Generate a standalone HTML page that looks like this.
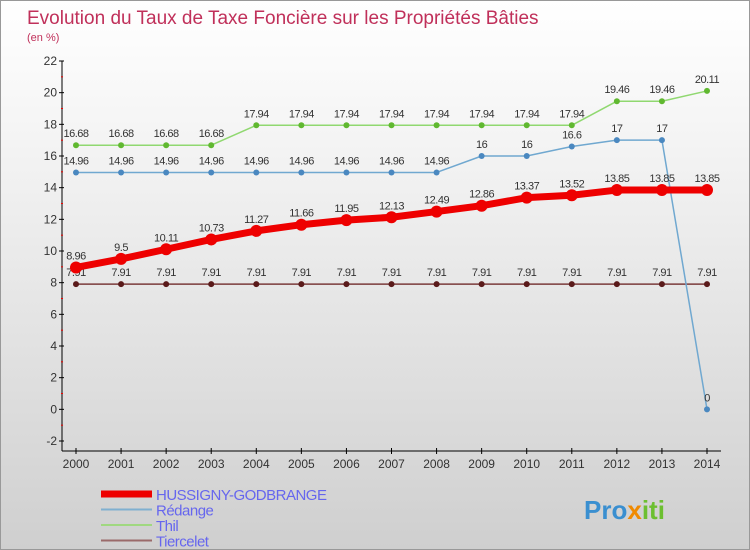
<!DOCTYPE html>
<html><head><meta charset="utf-8"><style>
body{margin:0}
#c{width:750px;height:550px;position:relative;overflow:hidden;background:linear-gradient(#ffffff,#f2f2f2 30%,#cfcfcf);font-family:"Liberation Sans",sans-serif;box-sizing:border-box;border:1px solid #999}
</style></head><body>
<div id="c">
<svg id="s" width="750" height="550">
<text x="26" y="23" font-size="19" fill="#c0305a">Evolution du Taux de Taxe Foncière sur les Propriétés Bâties</text>
<text x="26" y="40" font-size="11" fill="#c0305a">(en %)</text>
<g id="g"></g>
<text x="583" y="518" font-size="26" font-weight="bold" fill="#3a8fd0">Pro<tspan fill="#f08a00">x</tspan><tspan fill="#6cbf30">iti</tspan></text>
</svg>
</div>
<script>
const years=[2000,2001,2002,2003,2004,2005,2006,2007,2008,2009,2010,2011,2012,2013,2014];
const hussigny=[8.96,9.5,10.11,10.73,11.27,11.66,11.95,12.13,12.49,12.86,13.37,13.52,13.85,13.85,13.85];
const redange=[14.96,14.96,14.96,14.96,14.96,14.96,14.96,14.96,14.96,16,16,16.6,17,17,0];
const thil=[16.68,16.68,16.68,16.68,17.94,17.94,17.94,17.94,17.94,17.94,17.94,17.94,19.46,19.46,20.11];
const tiercelet=[7.91,7.91,7.91,7.91,7.91,7.91,7.91,7.91,7.91,7.91,7.91,7.91,7.91,7.91,7.91];
const yTicks=[-2,0,2,4,6,8,10,12,14,16,18,20,22];
const NS="http://www.w3.org/2000/svg";
const g=document.getElementById('g');
const X=i=>75+i*(706-75)/14;
const Y=v=>440-(v+2)*(380/24);
function el(t,a,name){const e=document.createElementNS(NS,t);for(const k in a)e.setAttribute(k,a[k]);


g.appendChild(e);return e;}
el('line',{x1:61,y1:Y(22),x2:61,y2:450,stroke:'#000'},'y-axis');
el('line',{x1:61,y1:450,x2:720,y2:450,stroke:'#000'},'x-axis');
yTicks.forEach(v=>{el('line',{x1:58,x2:63,y1:Y(v),y2:Y(v),stroke:'#000'},'y-tick');
const t=el('text',{x:56,y:Y(v)+4,'font-size':12,fill:'#333','text-anchor':'end'},'y-tick-label');t.textContent=v;
if(v<22)el('line',{x1:60,x2:62,y1:Y(v+1),y2:Y(v+1),stroke:'#e00'},'y-minor-tick');});
years.forEach((y,i)=>{el('line',{x1:X(i),x2:X(i),y1:447,y2:453,stroke:'#000'},'x-tick');
const t=el('text',{x:X(i),y:467,'font-size':12,fill:'#333','text-anchor':'middle'},'x-tick-label');t.textContent=y;});
function series(d,color,w,r,name,dark){
el('polyline',{points:d.map((v,i)=>X(i)+','+Y(v)).join(' '),fill:'none',stroke:color,'stroke-width':w,'stroke-linejoin':'round'},name+'-line');
d.forEach((v,i)=>{el('circle',{cx:X(i),cy:Y(v),r:r,fill:dark||color},name+'-point');
const t=el('text',{x:X(i),y:Y(v)-8,'font-size':11,fill:'#333','text-anchor':'middle','letter-spacing':'-0.5'},name+'-value');t.textContent=v;});}
series(tiercelet,'#7a3a3a',1.5,3,'tiercelet','#5a1a1a');
series(thil,'#90d870',1.5,3,'thil','#60b830');
series(redange,'#70a8d0',1.5,3,'redange','#4a88c0');
series(hussigny,'#ee0000',7,6,'hussigny');
const leg=[['HUSSIGNY-GODBRANGE','#ee0000',7],['Rédange','#80b0d0',2],['Thil','#a0d880',2],['Tiercelet','#9a6a6a',2]];
leg.forEach((l,i)=>{const y=493+i*15.5;
el('line',{x1:100,x2:151,y1:y,y2:y,stroke:l[1],'stroke-width':l[2]},'legend-swatch');
const t=el('text',{x:155,y:y+6,'font-size':15,fill:'#6666ee','letter-spacing':'-0.5'},'legend-entry');t.textContent=l[0];});
</script>
</body></html>
